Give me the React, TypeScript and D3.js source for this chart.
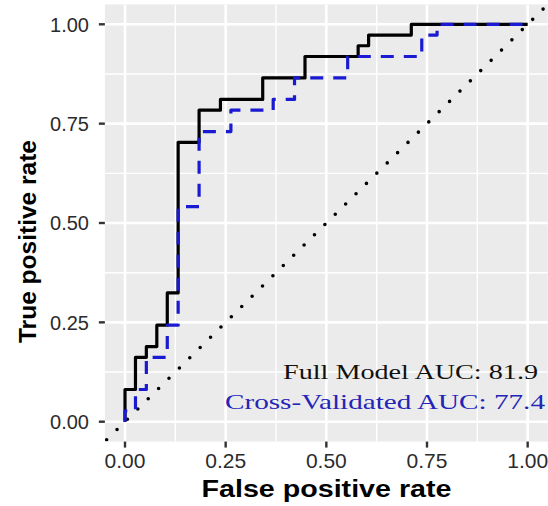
import React from "react";
import * as d3 from "d3";

const W = 548;
const H = 506;

// Full model ROC corner points (step: rise first, then move right)
const fullFpr = [0, 0.026, 0.053, 0.079, 0.105, 0.132, 0.184, 0.237, 0.342, 0.447, 0.579, 0.605, 0.711, 1.0];
const fullTpr = [0, 0.081, 0.162, 0.189, 0.243, 0.324, 0.703, 0.784, 0.811, 0.865, 0.919, 0.946, 0.973, 1.0];

// Cross-validated ROC corner points
const cvFpr = [0, 0.026, 0.053, 0.105, 0.132, 0.184, 0.263, 0.368, 0.421, 0.553, 0.737, 0.775, 1.0];
const cvTpr = [0, 0.027, 0.081, 0.162, 0.243, 0.541, 0.730, 0.784, 0.811, 0.865, 0.919, 0.973, 1.0];

const majorTicks = [0, 0.25, 0.5, 0.75, 1];
const minorTicks = [0.125, 0.375, 0.625, 0.875];
const tickLabels = ["0.00", "0.25", "0.50", "0.75", "1.00"];

const xTitle = "False positive rate";
const yTitle = "True positive rate";
const fullLabel = "Full Model AUC: 81.9";
const cvLabel = "Cross-Validated AUC: 77.4";

export default function App() {
  const x = d3.scaleLinear().domain([-0.05, 1.05]).range([104.87, 547.8]);
  const y = d3.scaleLinear().domain([-0.05, 1.05]).range([441.57, 4.43]);

  const line = d3
    .line<[number, number]>()
    .x((d) => x(d[0]))
    .y((d) => y(d[1]))
    .curve(d3.curveStepBefore);

  const fullPts: [number, number][] = fullFpr.map((f, i) => [f, fullTpr[i]]);
  const cvPts: [number, number][] = cvFpr.map((f, i) => [f, cvTpr[i]]);

  const px0 = x(-0.05), px1 = x(1.05);
  const py0 = y(1.05), py1 = y(-0.05);

  return (
    <svg
      width={W}
      height={H}
      style={{ position: "fixed", left: 0, top: 0, background: "#fff" }}
      fontFamily="'Liberation Sans', Arial, sans-serif"
    >
      <defs>
        <clipPath id="panel">
          <rect x={px0} y={py0} width={px1 - px0} height={py1 - py0} />
        </clipPath>
      </defs>
      <rect x={px0} y={py0} width={px1 - px0} height={py1 - py0} fill="#EBEBEB" />
      <g clipPath="url(#panel)">
        {minorTicks.map((t) => (
          <g key={"mn" + t}>
            <line x1={x(t)} x2={x(t)} y1={py0} y2={py1} stroke="#fff" strokeWidth={1.4} />
            <line x1={px0} x2={px1} y1={y(t)} y2={y(t)} stroke="#fff" strokeWidth={1.4} />
          </g>
        ))}
        {majorTicks.map((t) => (
          <g key={"mj" + t}>
            <line x1={x(t)} x2={x(t)} y1={py0} y2={py1} stroke="#fff" strokeWidth={2.6} />
            <line x1={px0} x2={px1} y1={y(t)} y2={y(t)} stroke="#fff" strokeWidth={2.6} />
          </g>
        ))}
        <line
          x1={x(-0.05)}
          y1={y(-0.05)}
          x2={x(1.05)}
          y2={y(1.05)}
          stroke="#000"
          strokeWidth={3.6}
          strokeLinecap="round"
          strokeDasharray="0 14.6"
          strokeDashoffset={-2.5}
        />
        <path d={line(fullPts) || ""} fill="none" stroke="#000" strokeWidth={3.2} strokeLinejoin="round" />
        <path
          d={line(cvPts) || ""}
          fill="none"
          stroke="#1a1ad2"
          strokeWidth={3.2}
          strokeDasharray="13 10"
          strokeLinejoin="round"
        />
        <text
          x={538}
          y={379.3}
          textAnchor="end"
          fontFamily="'Liberation Serif', 'Times New Roman', serif"
          fontSize={22}
          fill="#111"
          textLength={255}
          lengthAdjust="spacingAndGlyphs"
        >
          {fullLabel}
        </text>
        <text
          x={545}
          y={409.3}
          textAnchor="end"
          fontFamily="'Liberation Serif', 'Times New Roman', serif"
          fontSize={21.5}
          fill="#2424b8"
          textLength={320}
          lengthAdjust="spacingAndGlyphs"
        >
          {cvLabel}
        </text>
      </g>
      {/* x axis */}
      {majorTicks.map((t, i) => (
        <g key={"xt" + t}>
          <line x1={x(t)} x2={x(t)} y1={py1} y2={py1 + 6} stroke="#333" strokeWidth={2.4} />
          <text x={x(t)} y={468.3} textAnchor="middle" fontSize={21} fill="#2b2b2b">
            {tickLabels[i]}
          </text>
        </g>
      ))}
      {/* y axis */}
      {majorTicks.map((t, i) => (
        <g key={"yt" + t}>
          <line x1={px0 - 6} x2={px0} y1={y(t)} y2={y(t)} stroke="#333" strokeWidth={2.4} />
          <text x={89} y={y(t)} dy="0.36em" textAnchor="end" fontSize={20} fill="#2b2b2b">
            {tickLabels[i]}
          </text>
        </g>
      ))}
      <text
        x={326.5}
        y={496.7}
        textAnchor="middle"
        fontSize={23.5}
        fontWeight="bold"
        fill="#000"
        textLength={250}
        lengthAdjust="spacingAndGlyphs"
      >
        {xTitle}
      </text>
      <text
        transform={`translate(35.5,241.5) rotate(-90)`}
        textAnchor="middle"
        fontSize={24}
        fontWeight="bold"
        fill="#000"
        textLength={203}
        lengthAdjust="spacingAndGlyphs"
      >
        {yTitle}
      </text>
    </svg>
  );
}
